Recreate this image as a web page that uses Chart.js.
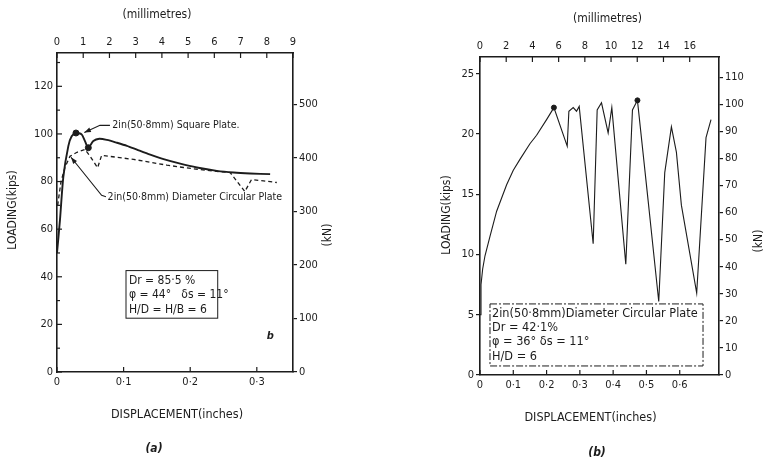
<!DOCTYPE html>
<html>
<head>
<meta charset="utf-8">
<title>Loading - displacement</title>
<script src="https://cdn.jsdelivr.net/npm/chart.js@4.4.1/dist/chart.umd.min.js"></script>
<style>
  body { margin: 0; background: #fff; }
  #wrap { position: relative; width: 764px; height: 464px; }
  #boxA { position: absolute; left: 0; top: 0; width: 380px; height: 464px; }
  #boxB { position: absolute; left: 380px; top: 0; width: 384px; height: 464px; }
</style>
</head>
<body>
<div id="wrap">
  <div id="boxA"><canvas id="chartA"></canvas></div>
  <div id="boxB"><canvas id="chartB"></canvas></div>
</div>
<script>
// ---- panel (a): 2in plates, Dr = 85.5 %  (displacement in inches, load in kips)
const squareX = [0, 0.0045, 0.0095, 0.017, 0.022, 0.0285, 0.037, 0.042, 0.047, 0.0545, 0.0635, 0.075, 0.09, 0.105, 0.12, 0.14, 0.16, 0.185, 0.21, 0.24, 0.265, 0.29, 0.32];
const squareY = [50, 64, 82, 94.9, 99, 100.4, 99.8, 97, 94.2, 97, 98, 97.5, 96.3, 95, 93.4, 91.3, 89.4, 87.5, 85.9, 84.5, 83.8, 83.4, 83.1];
const circleX = [0.001, 0.006, 0.012, 0.0195, 0.03, 0.042, 0.05, 0.061, 0.067, 0.09, 0.115, 0.14, 0.165, 0.19, 0.215, 0.242, 0.26, 0.282, 0.292, 0.31, 0.33];
const circleY = [70, 80, 86, 90.6, 92.3, 93.5, 90.5, 85.8, 91, 90.2, 89.3, 88.1, 86.9, 85.9, 85, 84.2, 83.8, 75.8, 80.8, 80.3, 79.6];
const squareDotX = [0.0285, 0.047];
const squareDotY = [100.4, 94.2];

// ---- panel (b): 2in circular plate, Dr = 42.1 %
const plateX = [0, 0.003, 0.008, 0.015, 0.03, 0.05, 0.08, 0.1, 0.12, 0.15, 0.17, 0.2, 0.222, 0.262, 0.267, 0.28, 0.29, 0.298, 0.34, 0.352, 0.365, 0.385, 0.396, 0.438, 0.458, 0.473, 0.505, 0.537, 0.555, 0.575, 0.59, 0.605, 0.651, 0.679, 0.694];
const plateY = [5, 7.5, 8.8, 9.9, 11.5, 13.6, 15.8, 17.0, 17.9, 19.2, 19.9, 21.2, 22.2, 19.0, 21.9, 22.2, 21.9, 22.3, 10.9, 22.0, 22.6, 20.1, 22.2, 9.2, 22.0, 22.8, 14.5, 6.1, 16.8, 20.6, 18.5, 14.1, 6.8, 19.7, 21.2];
const plateDotX = [0.222, 0.473];
const plateDotY = [22.2, 22.8];

// ---- axes
const KN_PER_KIP = 4.448;
const MM_PER_IN = 25.4;

const aInMax = 9 / MM_PER_IN;
const aKipsMax = 134;
const aInTicks = [0, 0.1, 0.2, 0.3];
const aInLabels = ['0', '0·1', '0·2', '0·3'];
const aMmTicks = [0, 1, 2, 3, 4, 5, 6, 7, 8, 9];
const aMmLabels = ['0', '1', '2', '3', '4', '5', '6', '7', '8', '9'];
const aKipsTicks = [0, 10, 20, 30, 40, 50, 60, 70, 80, 90, 100, 110, 120, 130];
const aKipsLabels = ['0', '', '20', '', '40', '', '60', '', '80', '', '100', '', '120', ''];
const aKnTicks = [0, 100, 200, 300, 400, 500];
const aKnLabels = ['0', '100', '200', '300', '400', '500'];

const bInMax = 0.718;
const bKipsMax = 26.4;
const bInTicks = [0, 0.1, 0.2, 0.3, 0.4, 0.5, 0.6];
const bInLabels = ['0', '0·1', '0·2', '0·3', '0·4', '0·5', '0·6'];
const bMmTicks = [0, 2, 4, 6, 8, 10, 12, 14, 16];
const bMmLabels = ['0', '2', '4', '6', '8', '10', '12', '14', '16'];
const bKipsTicks = [0, 5, 10, 15, 20, 25];
const bKipsLabels = ['0', '5', '10', '15', '20', '25'];
const bKnTicks = [0, 10, 20, 30, 40, 50, 60, 70, 80, 90, 100, 110];
const bKnLabels = ['0', '10', '20', '30', '40', '50', '60', '70', '80', '90', '100', '110'];

const INK = '#1c1c1c';
const FONT = "'DejaVu Sans Condensed', 'DejaVu Sans', sans-serif";

function pts(xs, ys) {
    return xs.map((x, i) => ({ x: x, y: ys[i] }));
}

// one axis; size = fixed thickness of the axis box, inward = draw tick marks into the plot
function axis(pos, min, max, ticks, labels, size, inward) {
    const horiz = pos === 'top' || pos === 'bottom';
    return {
        type: 'linear',
        position: pos,
        min: min,
        max: max,
        inward: inward,
        afterBuildTicks: s => { s.ticks = ticks.map(v => ({ value: v })); },
        afterFit: s => { if (horiz) s.height = size; else s.width = size; },
        ticks: {
            callback: (v, i) => labels[i],
            autoSkip: false,
            maxRotation: 0,
            padding: inward ? 4 : 2,
            color: INK,
            font: { family: FONT, size: 11 }
        },
        grid: inward
            ? { display: false, drawTicks: false }
            : { display: true, drawOnChartArea: false, drawTicks: true, tickLength: 4, color: INK, lineWidth: 1.2 },
        border: { display: true, color: INK, width: 1.6 }
    };
}

// short tick marks pointing into the plotting area
const inwardTicks = {
    id: 'inwardTicks',
    afterDraw(chart) {
        const ctx = chart.ctx;
        const a = chart.chartArea;
        ctx.save();
        ctx.strokeStyle = INK;
        ctx.lineWidth = 1.2;
        Object.values(chart.scales).forEach(s => {
            if (!s.options.inward) return;
            s.ticks.forEach((t, i) => {
                const len = s.options.ticks.callback(t.value, i) ? 5 : 3;
                const p = s.getPixelForValue(t.value);
                ctx.beginPath();
                if (s.position === 'bottom') { ctx.moveTo(p, a.bottom); ctx.lineTo(p, a.bottom - len); }
                if (s.position === 'top') { ctx.moveTo(p, a.top); ctx.lineTo(p, a.top + len); }
                if (s.position === 'left') { ctx.moveTo(a.left, p); ctx.lineTo(a.left + len, p); }
                if (s.position === 'right') { ctx.moveTo(a.right, p); ctx.lineTo(a.right - len, p); }
                ctx.stroke();
            });
        });
        ctx.restore();
    }
};

function text(ctx, str, x, y, opt) {
    opt = opt || {};
    ctx.save();
    ctx.fillStyle = INK;
    ctx.font = (opt.style || '') + ' ' + (opt.size || 12) + 'px ' + FONT;
    ctx.textAlign = opt.align || 'left';
    ctx.textBaseline = 'middle';
    ctx.translate(x, y);
    if (opt.rotate) ctx.rotate(-Math.PI / 2);
    ctx.fillText(str, 0, 0);
    ctx.restore();
}

// leader line through data points, arrow head on the last one
function leader(chart, path) {
    const { ctx, scales: { x, y } } = chart;
    const p = path.map(q => [x.getPixelForValue(q[0]), y.getPixelForValue(q[1])]);
    ctx.save();
    ctx.strokeStyle = INK;
    ctx.fillStyle = INK;
    ctx.lineWidth = 1.1;
    ctx.beginPath();
    p.forEach((q, i) => i ? ctx.lineTo(q[0], q[1]) : ctx.moveTo(q[0], q[1]));
    ctx.stroke();
    const [x1, y1] = p[p.length - 2], [x2, y2] = p[p.length - 1];
    const ang = Math.atan2(y2 - y1, x2 - x1);
    ctx.beginPath();
    ctx.moveTo(x2, y2);
    ctx.lineTo(x2 - 7 * Math.cos(ang - 0.35), y2 - 7 * Math.sin(ang - 0.35));
    ctx.lineTo(x2 - 7 * Math.cos(ang + 0.35), y2 - 7 * Math.sin(ang + 0.35));
    ctx.closePath();
    ctx.fill();
    ctx.restore();
}

function frame(chart, x0, y0, x1, y1, dash) {
    const { ctx, scales: { x, y } } = chart;
    ctx.save();
    ctx.strokeStyle = INK;
    ctx.lineWidth = 1;
    ctx.setLineDash(dash || []);
    const l = x.getPixelForValue(x0), t = y.getPixelForValue(y0);
    ctx.strokeRect(l, t, x.getPixelForValue(x1) - l, y.getPixelForValue(y1) - t);
    ctx.restore();
}

const notesA = {
    id: 'notesA',
    afterDraw(chart) {
        const { ctx, scales: { x, y } } = chart;
        const X = v => x.getPixelForValue(v), Y = v => y.getPixelForValue(v);
        text(ctx, '2in(50·8mm) Square Plate.', X(0.083), Y(103.6), { size: 10.5 });
        leader(chart, [[0.0795, 103.6], [0.0645, 103.6], [0.041, 100.6]]);
        text(ctx, '2in(50·8mm) Diameter Circular Plate', X(0.076), Y(73.6), { size: 10.5 });
        leader(chart, [[0.0735, 73.6], [0.067, 74.2], [0.021, 90.2]]);
        frame(chart, 0.1036, 42.6, 0.2413, 22.6);
        text(ctx, 'Dr = 85·5 %', X(0.108), Y(38.4), { size: 12 });
        text(ctx, 'φ = 44°   δs = 11°', X(0.108), Y(32.4), { size: 12 });
        text(ctx, 'H/D = H/B = 6', X(0.108), Y(26.1), { size: 12 });
        text(ctx, 'b', X(0.315), Y(15.2), { size: 11, style: 'italic bold' });
        text(ctx, '(millimetres)', 157, 15, { size: 12, align: 'center' });
        text(ctx, 'LOADING(kips)', 13, 210, { size: 12, align: 'center', rotate: true });
        text(ctx, '(kN)', 328, 235, { size: 12, align: 'center', rotate: true });
        text(ctx, 'DISPLACEMENT(inches)', 177, 415, { size: 12.5, align: 'center' });
        text(ctx, '(a)', 154, 449, { size: 12, align: 'center', style: 'italic bold' });
    }
};

const notesB = {
    id: 'notesB',
    afterDraw(chart) {
        const { ctx, scales: { x, y } } = chart;
        const X = v => x.getPixelForValue(v), Y = v => y.getPixelForValue(v);
        frame(chart, 0.03, 5.9, 0.67, 0.75, [7, 2, 2, 2]);
        text(ctx, '2in(50·8mm)Diameter Circular Plate', X(0.036), Y(5.12), { size: 12.6 });
        text(ctx, 'Dr = 42·1%', X(0.036), Y(3.96), { size: 12.6 });
        text(ctx, 'φ = 36° δs = 11°', X(0.036), Y(2.77), { size: 12.6 });
        text(ctx, 'H/D = 6', X(0.036), Y(1.52), { size: 12.6 });
        text(ctx, '(millimetres)', 227.5, 19, { size: 12, align: 'center' });
        text(ctx, 'LOADING(kips)', 67, 215, { size: 12, align: 'center', rotate: true });
        text(ctx, '(kN)', 379, 241, { size: 12, align: 'center', rotate: true });
        text(ctx, 'DISPLACEMENT(inches)', 210.5, 418, { size: 12.5, align: 'center' });
        text(ctx, '(b)', 217, 453, { size: 12, align: 'center', style: 'italic bold' });
    }
};

function baseOptions(scales) {
    return {
        responsive: true,
        maintainAspectRatio: false,
        animation: false,
        layout: { padding: 0 },
        plugins: { legend: { display: false }, tooltip: { enabled: false } },
        scales: scales
    };
}

new Chart(document.getElementById('chartA'), {
    type: 'scatter',
    data: {
        datasets: [
            { label: 'Square plate', data: pts(squareX, squareY), showLine: true, borderColor: INK, borderWidth: 1.9, pointRadius: 0, tension: 0.25 },
            { label: 'Circular plate', data: pts(circleX, circleY), showLine: true, borderColor: INK, borderWidth: 1.3, borderDash: [4, 3], pointRadius: 0, tension: 0 },
            { label: 'Peaks', data: pts(squareDotX, squareDotY), showLine: false, pointRadius: 3, backgroundColor: INK, borderColor: INK }
        ]
    },
    options: baseOptions({
        x: axis('bottom', 0, aInMax, aInTicks, aInLabels, 92, true),
        x2: axis('top', 0, aInMax * MM_PER_IN, aMmTicks, aMmLabels, 53, true),
        y: axis('left', 0, aKipsMax, aKipsTicks, aKipsLabels, 57, true),
        y2: axis('right', 0, aKipsMax * KN_PER_KIP, aKnTicks, aKnLabels, 87, false)
    }),
    plugins: [inwardTicks, notesA]
});

new Chart(document.getElementById('chartB'), {
    type: 'scatter',
    data: {
        datasets: [
            { label: 'Circular plate', data: pts(plateX, plateY), showLine: true, borderColor: INK, borderWidth: 1.1, pointRadius: 0, tension: 0 },
            { label: 'Peaks', data: pts(plateDotX, plateDotY), showLine: false, pointRadius: 2.5, backgroundColor: INK, borderColor: INK }
        ]
    },
    options: baseOptions({
        x: axis('bottom', 0, bInMax, bInTicks, bInLabels, 89, true),
        x2: axis('top', 0, bInMax * MM_PER_IN, bMmTicks, bMmLabels, 57, true),
        y: axis('left', 0, bKipsMax, bKipsTicks, bKipsLabels, 100, false),
        y2: axis('right', 0, bKipsMax * KN_PER_KIP, bKnTicks, bKnLabels, 45, false)
    }),
    plugins: [inwardTicks, notesB]
});
</script>
</body>
</html>
